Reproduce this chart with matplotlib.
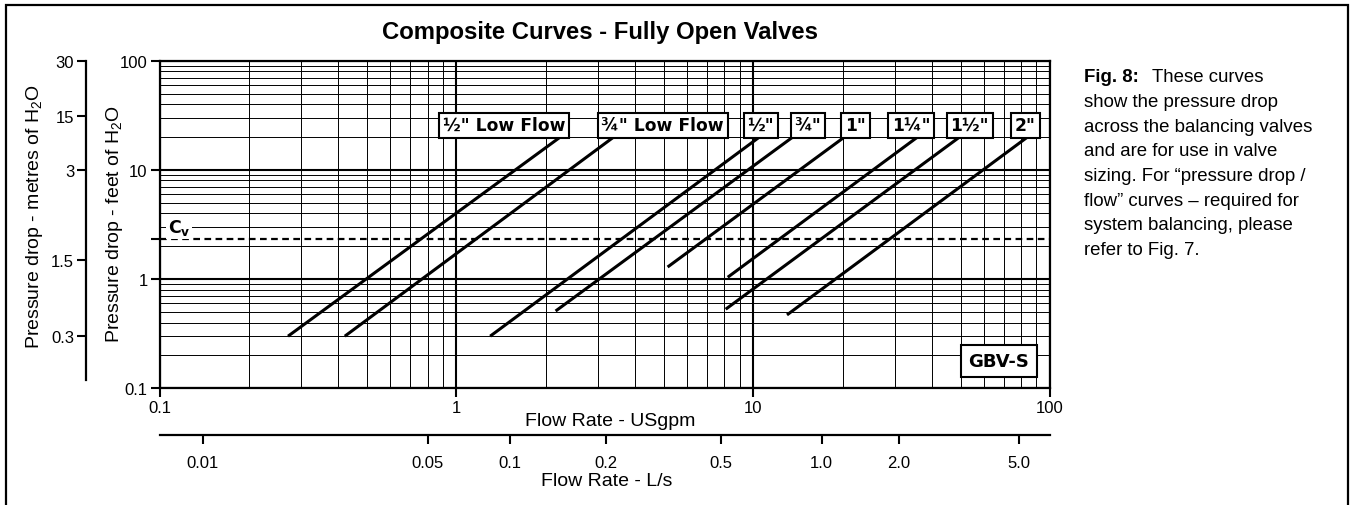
import matplotlib.pyplot as plt
from matplotlib import font_manager
from matplotlib.patches import Rectangle
from matplotlib.ticker import LogLocator, NullFormatter, NullLocator

# Fully open valve curves: flow (USgpm) against pressure drop (ft of H2O)
valves = ['½" Low Flow', '¾" Low Flow', '½"', '¾"', '1"', '1¼"', '1½"', '2"']
flow_start = [0.271, 0.421, 1.30, 2.16, 5.15, 8.21, 8.08, 13.0]
dp_start = [0.30, 0.30, 0.30, 0.51, 1.29, 1.04, 0.53, 0.47]
flow_end = [2.24, 3.39, 10.5, 13.6, 20.3, 35.8, 49.6, 84.0]
dp_end = [20, 20, 20, 20, 20, 20, 20, 20]
label_flow = [1.445, 4.96, 10.6, 15.3, 22.1, 34.1, 53.6, 82.7]
label_dp = 25.6

cv_dp = 2.31  # 1 psi

ft_ticks = [0.1, 1, 10, 100]
m_tick_at_ft = [100, 31, 10, 1.5, 0.3]
m_tick_labels = ['30', '15', '3', '1.5', '0.3']
ls_tick_at_gpm = [0.14, 0.80, 1.52, 3.2, 7.8, 17.0, 31.0, 78.5]
ls_tick_labels = ['0.01', '0.05', '0.1', '0.2', '0.5', '1.0', '2.0', '5.0']

note_lines = ['show the pressure drop',
              'across the balancing valves',
              'and are for use in valve',
              'sizing. For \u201cpressure drop /',
              'flow\u201d curves \u2013 required for',
              'system balancing, please',
              'refer to Fig. 7.']

names = {f.name for f in font_manager.fontManager.ttflist}
narrow = 'Liberation Sans Narrow' if 'Liberation Sans Narrow' in names else 'Liberation Sans'
tick_size = 13.5 if narrow == 'Liberation Sans Narrow' else 12
label_size = 16 if narrow == 'Liberation Sans Narrow' else 14

plt.rcParams['font.family'] = [narrow, 'DejaVu Sans']
plt.rcParams['mathtext.fontset'] = 'custom'
plt.rcParams['mathtext.rm'] = narrow
plt.rcParams['mathtext.bf'] = 'DejaVu Sans:bold'

W, H = 1352, 506
fig = plt.figure(figsize=(W / 100, H / 100), dpi=100)

# page frame (open at the bottom)
fig.patches.append(Rectangle((6 / W, -0.1), 1342 / W, 1.1 - 6 / H, transform=fig.transFigure,
                             fill=False, ec='black', lw=1.6, clip_on=False))

ax = fig.add_axes([159.5 / W, 1 - 389.3 / H, 890.5 / W, 327.6 / H])
ax.set_xscale('log')
ax.set_yscale('log')
ax.set_xlim(0.1, 100)
ax.set_ylim(0.1, 100)
ax.set_axisbelow(True)

ax.set_xticks([0.1, 1, 10, 100], ['0.1', '1', '10', '100'])
ax.xaxis.set_minor_locator(LogLocator(subs=range(2, 10)))
ax.xaxis.set_minor_formatter(NullFormatter())
ax.set_yticks([0.1, 1, cv_dp, 10, 100], ['0.1', '1', '', '10', '100'])
ax.yaxis.set_minor_locator(LogLocator(subs=range(2, 10)))
ax.yaxis.set_minor_formatter(NullFormatter())
ax.grid(which='major', color='black', lw=1.5)
ax.grid(which='minor', color='black', lw=0.7)
for t, loc in zip(ax.yaxis.get_major_ticks(), ax.get_yticks()):
    if loc == cv_dp:
        t.gridline.set_visible(False)
ax.tick_params(which='minor', length=0)
ax.tick_params(which='major', length=6.5, width=1.5, labelsize=tick_size, pad=2)
for s in ax.spines.values():
    s.set_linewidth(1.6)

ax.axhline(cv_dp, color='black', lw=1.6, ls=(0, (3, 2)), zorder=2.5)
ax.text(0.1068, 3.0, r'C$_\mathbf{v}$', fontweight='bold', family='DejaVu Sans', fontsize=12.5,
        ha='left', va='center', zorder=4,
        bbox=dict(boxstyle='square,pad=0.1', fc='white', ec='none'))

for name, x0, y0, x1, y1, lx in zip(valves, flow_start, dp_start, flow_end, dp_end, label_flow):
    ax.plot([x0, x1], [y0, y1], color='black', lw=2.2, solid_capstyle='butt', zorder=3)
    ax.text(lx, label_dp, name, ha='center', va='center', fontsize=12.3, fontweight='bold',
            family='DejaVu Sans', zorder=5, clip_on=False,
            bbox=dict(boxstyle='square,pad=0.22', fc='white', ec='black', lw=1.5))

ax.text(0.9427, 0.0833, 'GBV-S', transform=ax.transAxes, ha='center', va='center',
        fontsize=13, fontweight='bold', family='DejaVu Sans', zorder=5,
        bbox=dict(boxstyle='square,pad=0.4', fc='white', ec='black', lw=1.5))

ax.set_xlabel('Flow Rate - USgpm', fontsize=label_size, va='center')
ax.xaxis.set_label_coords(0.506, -0.097)
ax.set_ylabel(r'Pressure drop - feet of H$_\mathregular{2}$O', fontsize=label_size, va='center')
ax.yaxis.set_label_coords(-0.05, 0.505)

# metres of water scale
axm = fig.add_axes([86 / W, 1 - 389.3 / H, 0.001, 327.6 / H])
axm.set_yscale('log')
axm.set_ylim(0.1, 100)
axm.set_xticks([])
axm.set_yticks(m_tick_at_ft, m_tick_labels)
axm.yaxis.set_minor_locator(NullLocator())
axm.patch.set_visible(False)
for s in ['top', 'right', 'bottom']:
    axm.spines[s].set_visible(False)
axm.spines['left'].set_bounds(0.12, 100)
axm.spines['left'].set_linewidth(1.6)
axm.tick_params(length=6.5, width=1.5, labelsize=tick_size, pad=2)
fig.text(35 / W, 1 - 216 / H, r'Pressure drop - metres of H$_\mathregular{2}$O', rotation=90,
         ha='center', va='center', fontsize=label_size)

# litres per second scale
axl = fig.add_axes([159.5 / W, 1 - 436 / H, 890.5 / W, 0.0001])
axl.set_xscale('log')
axl.set_xlim(0.1, 100)
axl.set_yticks([])
axl.set_xticks(ls_tick_at_gpm, ls_tick_labels)
axl.xaxis.set_minor_locator(NullLocator())
axl.patch.set_visible(False)
for s in ['top', 'right', 'left']:
    axl.spines[s].set_visible(False)
axl.spines['bottom'].set_linewidth(1.6)
axl.tick_params(length=6.5, width=1.5, labelsize=tick_size, pad=8)
axl.set_xlabel('Flow Rate - L/s', fontsize=label_size, va='center')
axl.xaxis.set_label_coords(607 / W, 1 - 482 / H, transform=fig.transFigure)

fig.text(600 / W, 1 - 33 / H, 'Composite Curves - Fully Open Valves', ha='center', va='center',
         fontsize=17.2, fontweight='bold', family='Liberation Sans')

# side note
x0, y0, step = 1084 / W, 1 - 78 / H, 24.6 / H
head = fig.text(x0, y0, 'Fig. 8:', fontsize=13.4, fontweight='bold', family='Liberation Sans',
                ha='left', va='center')
fig.canvas.draw()
bb = head.get_window_extent()
fig.text((bb.x1 + 13) / W, y0, 'These curves', fontsize=13.4, family='Liberation Sans',
         ha='left', va='center')
for i, line in enumerate(note_lines):
    fig.text(x0, y0 - (i + 1) * step, line, fontsize=13.4, family='Liberation Sans',
             ha='left', va='center')

fig.savefig('out.png', dpi=100)
